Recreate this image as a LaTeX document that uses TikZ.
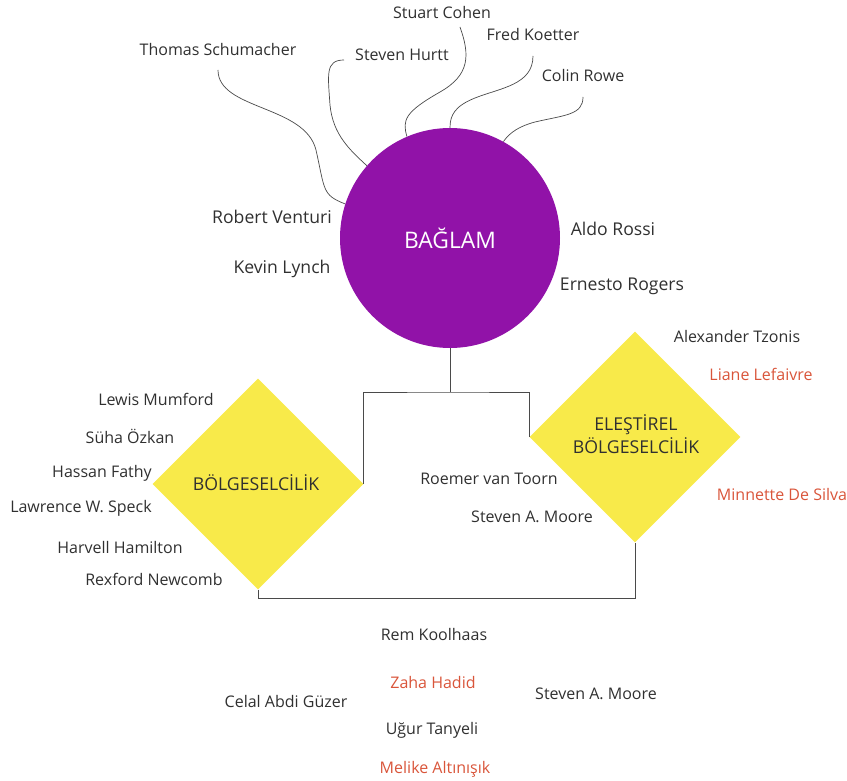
\documentclass[tikz,border=0pt]{standalone}
\usepackage{fontspec}
\setmainfont{Open Sans}
\usetikzlibrary{shapes.geometric}
\definecolor{bagpurple}{HTML}{9112A8}
\definecolor{diayellow}{HTML}{F8EA4A}
\definecolor{namered}{HTML}{D9553A}
\definecolor{linegray}{HTML}{4A4A4A}
\definecolor{txt}{HTML}{303030}
\tikzset{
  pname/.style={font=\fontsize{16}{19}\selectfont, text=txt, inner sep=0pt},
  bname/.style={pname, font=\fontsize{17.6}{21}\selectfont},
  rname/.style={pname, text=namered},
  link/.style={draw=linegray, line width=0.8pt},
  curvelink/.style={draw=linegray, line width=0.7pt},
  dia/.style={diamond, fill=diayellow, aspect=1, minimum size=211pt, inner sep=0pt, align=center,
     font=\fontsize{17.7}{23}\selectfont, text=txt},
}
\begin{document}
\begin{tikzpicture}[x=1pt,y=-1pt]
\useasboundingbox (0,0) rectangle (847,781);
% central circle
\node[circle, fill=bagpurple, minimum size=220pt, inner sep=0pt, text=white,
  font=\fontsize{22.8}{26}\selectfont] (bag) at (450,238) {BAĞLAM};
% diamonds
\node[dia] (bol) at (258,484) {};
\node[dia] (ele) at (635,437) {};
\node[pname, font=\fontsize{17.7}{23}\selectfont] (bolt) at (256,483) {BÖLGESELCİLİK};
\node[pname, font=\fontsize{17.7}{23}\selectfont, align=center] (elet) at (636,434) {ELEŞTİREL\\BÖLGESELCİLİK};
% top names
\node[pname] (sc) at (442,13) {Stuart Cohen};
\node[pname] (fk) at (533,35) {Fred Koetter};
\node[pname] (sh) at (402,55) {Steven Hurtt};
\node[pname] (ts) at (218,50) {Thomas Schumacher};
\node[pname] (cr) at (583,76) {Colin Rowe};
\coordinate (sc0) at (460,27);
\coordinate (fk0) at (533,56);
\coordinate (sh0) at (344,60);
\coordinate (ts0) at (218,70);
\coordinate (cr0) at (583,97);
\node[bname] (rv) at (272,217) {Robert Venturi};
\node[bname] (kl) at (282,269) {Kevin Lynch};
\node[bname] (ar) at (613,229) {Aldo Rossi};
\node[bname] (er) at (622,286) {Ernesto Rogers};
% curves
\draw[curvelink] (ts0) .. controls (218,110) and (305,105) .. (316,150)
                 .. controls (325,190) and (322,195) .. (bag.162);
\draw[curvelink] (sh0) .. controls (325,60) and (328,75) .. (330,105)
                 .. controls (333,135) and (350,150) .. (bag.139);
\draw[curvelink] (sc0) .. controls (470,55) and (470,75) .. (440,92)
                 .. controls (405,112) and (402,120) .. (bag.113);
\draw[curvelink] (fk0) .. controls (533,85) and (500,88) .. (475,98)
                 .. controls (455,106) and (450,115) .. (bag.90);
\draw[curvelink] (cr0) .. controls (583,115) and (565,115) .. (535,122)
                 .. controls (520,126) and (510,132) .. (bag.61);
% right names
\node[pname] (at) at (737,336) {Alexander Tzonis};
\node[rname] (ll) at (761,374) {Liane Lefaivre};
\node[rname] (md) at (782,494) {Minnette De Silva};
% left names
\node[pname] (lm) at (156,399) {Lewis Mumford};
\node[pname] (so) at (130,436) {Süha Özkan};
\node[pname] (hf) at (102,473) {Hassan Fathy};
\node[pname] (lw) at (81,508) {Lawrence W. Speck};
\node[pname] (hh) at (120,547) {Harvell Hamilton};
\node[pname] (rn) at (154,579) {Rexford Newcomb};
% middle names
\node[pname] (rt) at (489,479) {Roemer van Toorn};
\node[pname] (sm) at (532,517) {Steven A. Moore};
% bottom names
\node[pname] (rk) at (434,634) {Rem Koolhaas};
\node[rname] (zh) at (433,682) {Zaha Hadid};
\node[pname] (ca) at (286,701) {Celal Abdi Güzer};
\node[pname] (sm2) at (596,694) {Steven A. Moore};
\node[pname] (ut) at (432,730) {Uğur Tanyeli};
\node[rname] (ma) at (435,769) {Melike Altınışık};
% connectors
\coordinate (j) at (450,392);
\draw[link] (bag.south) -- (j);
\draw[link] (bol.east) |- (j) -| (ele.west);
\draw[link] (bol.south) -- ++(0,9) -| (ele.south);
\end{tikzpicture}
\end{document}
